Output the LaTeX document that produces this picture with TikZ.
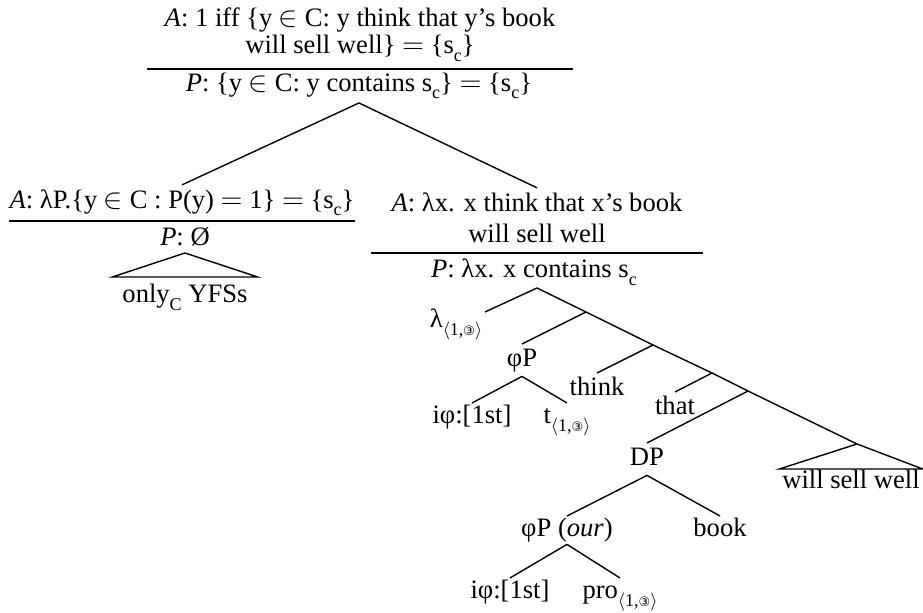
\documentclass[tikz,border=0pt]{standalone}
\usepackage{fontspec}
\setmainfont{Liberation Serif}
\newfontfamily\circfont{DejaVu Sans}
\usetikzlibrary{positioning}
\newcommand{\lowr}[1]{\raisebox{-0.6ex}{\fontsize{9}{9}\selectfont #1}}
\newcommand{\ix}{\lowr{$\langle$1,{\circfont\fontsize{6.5}{6.5}\selectfont ③}$\rangle$}}

\begin{document}
\begin{tikzpicture}[x=0.5pt, y=-0.5pt, line width=0.7pt,
  font=\fontsize{13.3}{14.5}\selectfont,
  lbl/.style={inner xsep=1pt, inner ysep=2pt, text height=9pt, text depth=2.5pt},
  sem/.style={align=center, inner xsep=0pt, inner ysep=2pt}]
\useasboundingbox (0,0) rectangle (923,613);

% top: the whole sentence
\node[sem, anchor=south, minimum width=212.5pt, inner ysep=0pt, text depth=7.3pt] (topA) at (360,69)
  {\textit{A}: 1 iff \{y $\in$ C: y think that y's book\\[-1pt] will sell well\} $=$ \{s\lowr{c}\}};
\draw (topA.south west) -- (topA.south east);
\node[lbl, anchor=south, inner ysep=3pt] (topP) at (359,103) {\textit{P}: \{y $\in$ C: y contains s\lowr{c}\} $=$ \{s\lowr{c}\}};

% left daughter: only_C YFSs
\node[sem, anchor=south, minimum width=171.5pt, text depth=4pt] (leftA) at (182,221)
  {\textit{A}: λP.\{y $\in$ C : P(y) $=$ 1\} $=$ \{s\lowr{c}\}};
\draw (leftA.south west) -- (leftA.south east);
\node[lbl, anchor=south, inner ysep=1pt] (leftP) at (185,253) {\textit{P}: Ø};
\node[lbl, anchor=north, inner ysep=3.5pt, minimum width=72pt] (yfs) at (185,277) {only\lowr{C} YFSs};
\draw (leftP.south) -- (yfs.north west) -- (yfs.north east) -- cycle;

% right daughter: the lambda abstract
\node[sem, anchor=south, minimum width=165.5pt, text depth=3pt] (rightA) at (537,253)
  {\textit{A}: λx. x think that x's book\\[1pt] will sell well};
\draw (rightA.south west) -- (rightA.south east);
\node[lbl, anchor=base] (rightP) at (534,278) {\textit{P}: λx. x contains s\lowr{c}};

\draw (topP.south) -- (leftA.north);
\draw (topP.south) -- (rightA.north);

% right-branching spine
\coordinate (b1) at (537,288);
\coordinate (b2) at (586,312);
\coordinate (b3) at (653,345);
\coordinate (b4) at (712,373);
\coordinate (b5) at (748,391);
\coordinate (b6) at (857,444);
\draw (b1) -- (b2) -- (b3) -- (b4) -- (b5) -- (b6);

\node[lbl, anchor=north east, inner ysep=1.5pt, text height=6pt] (lam) at (485,312) {λ\ix};
\node[lbl, anchor=north] (phiP) at (522,344) {φP};
\node[lbl, anchor=north] (think) at (597,373) {think};
\node[lbl, anchor=north] (that) at (675,392) {that};
\node[lbl, anchor=north] (dp) at (647,443) {DP};
\draw (b1) -- (lam.north east);
\draw (b2) -- (phiP.north);
\draw (b3) -- (think.north);
\draw (b4) -- (that.north);
\draw (b5) -- (dp.north);

% phiP subtree
\node[lbl, anchor=north, inner ysep=1pt] (iphiA) at (472,403) {iφ:[1st]};
\node[lbl, anchor=north, inner ysep=1pt] (trace) at (567,403) {t\ix};
\draw (phiP.south) -- (iphiA.north);
\draw (phiP.south) -- (trace.north);

% will sell well
\node[lbl, anchor=north, inner ysep=0.5pt, minimum width=71pt] (wsw) at (851,469) {will sell well};
\draw (b6) -- (wsw.north west) -- (wsw.north east) -- cycle;

% DP subtree
\node[lbl, anchor=north, inner ysep=1pt] (our) at (567,516) {φP (\textit{our})};
\node[lbl, anchor=north, inner ysep=1pt] (book) at (720,516) {book};
\draw (dp.south) -- (our.north);
\draw (dp.south) -- (book.north);
\node[lbl, anchor=north, inner ysep=1pt] (iphiB) at (510,578) {iφ:[1st]};
\node[lbl, anchor=north, inner ysep=1pt] (pro) at (620,578) {pro\ix};
\draw (our.south) -- (iphiB.north);
\draw (our.south) -- (pro.north);
\end{tikzpicture}
\end{document}
